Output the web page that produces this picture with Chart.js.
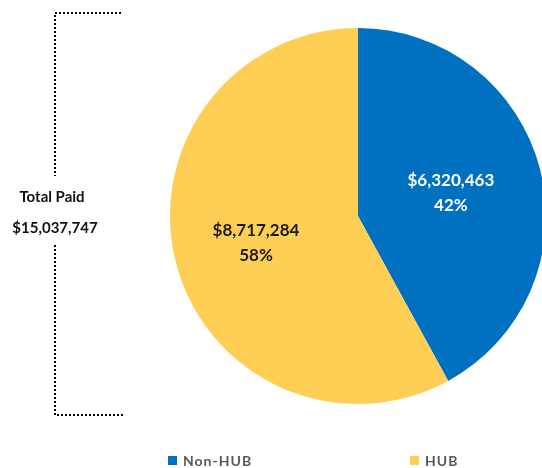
<!DOCTYPE html>
<html>
<head>
<meta charset="utf-8">
<script src="https://cdn.jsdelivr.net/npm/chart.js@4"></script>
<style>
  html, body { margin: 0; padding: 0; background: #fff; overflow: hidden; }
  #wrap { position: relative; width: 560px; height: 468px; }
</style>
</head>
<body>
<div id="wrap"><canvas id="chart"></canvas></div>
<script>
// paid amounts split by vendor type
const categories = ["Non-HUB", "HUB"];
const amounts = [6320463, 8717284];
const sliceColors = ["#0070C0", "#FFCF55"];
const labelColors = ["#ffffff", "#1a1a1a"];
const totalLabel = "Total Paid";

const total = amounts.reduce((a, b) => a + b, 0);
const money = v => "$" + v.toLocaleString("en-US");

// how far out along the slice the value text sits (fraction of radius)
const labelRadius = [0.51, 0.56];

// values written inside each slice
const sliceText = {
    id: "sliceText",
    afterDatasetsDraw(chart) {
        const ctx = chart.ctx;
        const arcs = chart.getDatasetMeta(0).data;
        ctx.save();
        ctx.font = "bold 17px Lato";
        ctx.textAlign = "center";
        ctx.textBaseline = "middle";
        arcs.forEach((arc, i) => {
            const a = arc.getProps(["x", "y", "startAngle", "endAngle", "outerRadius"]);
            const mid = (a.startAngle + a.endAngle) / 2;
            const r = a.outerRadius * labelRadius[i];
            const px = a.x + Math.cos(mid) * r;
            const py = a.y + Math.sin(mid) * r;
            const pct = Math.round(amounts[i] / total * 100) + "%";
            ctx.fillStyle = labelColors[i];
            ctx.fillText(money(amounts[i]), px, py - 12);
            ctx.fillText(pct, px, py + 13);
        });
        ctx.restore();
    }
};

// dotted bracket with the total on the left, legend at the bottom
const sidePanel = {
    id: "sidePanel",
    afterDraw(chart) {
        const ctx = chart.ctx;
        ctx.save();
        ctx.strokeStyle = "#000";
        ctx.lineWidth = 2;
        ctx.setLineDash([2, 2]);
        ctx.beginPath();
        ctx.moveTo(121, 13); ctx.lineTo(55, 13); ctx.lineTo(55, 176);
        ctx.moveTo(55, 245); ctx.lineTo(55, 415); ctx.lineTo(123, 415);
        ctx.stroke();
        ctx.setLineDash([]);

        ctx.fillStyle = "#111";
        ctx.font = "bold 15px Lato";
        ctx.textAlign = "center";
        ctx.textBaseline = "alphabetic";
        ctx.fillText(totalLabel, 52, 202);
        ctx.fillText(money(total), 55, 233);

        // legend
        const xs = [168, 410];
        ctx.font = "bold 14px Lato";
        ctx.textAlign = "left";
        ctx.letterSpacing = "1px";
        categories.forEach((c, i) => {
            ctx.fillStyle = sliceColors[i];
            ctx.fillRect(xs[i], 456, 9, 9);
            ctx.fillStyle = "#595959";
            ctx.fillText(c, xs[i] + 15, 466);
        });
        ctx.restore();
    }
};

new Chart(document.getElementById("chart"), {
    type: "pie",
    data: {
        labels: categories,
        datasets: [{
            data: amounts,
            backgroundColor: sliceColors,
            borderWidth: 0
        }]
    },
    options: {
        responsive: true,
        maintainAspectRatio: false,
        animation: false,
        layout: { padding: { left: 170, right: 14, top: 28, bottom: 64 } },
        plugins: {
            legend: { display: false },
            tooltip: { enabled: false }
        }
    },
    plugins: [sliceText, sidePanel]
});
</script>
</body>
</html>
